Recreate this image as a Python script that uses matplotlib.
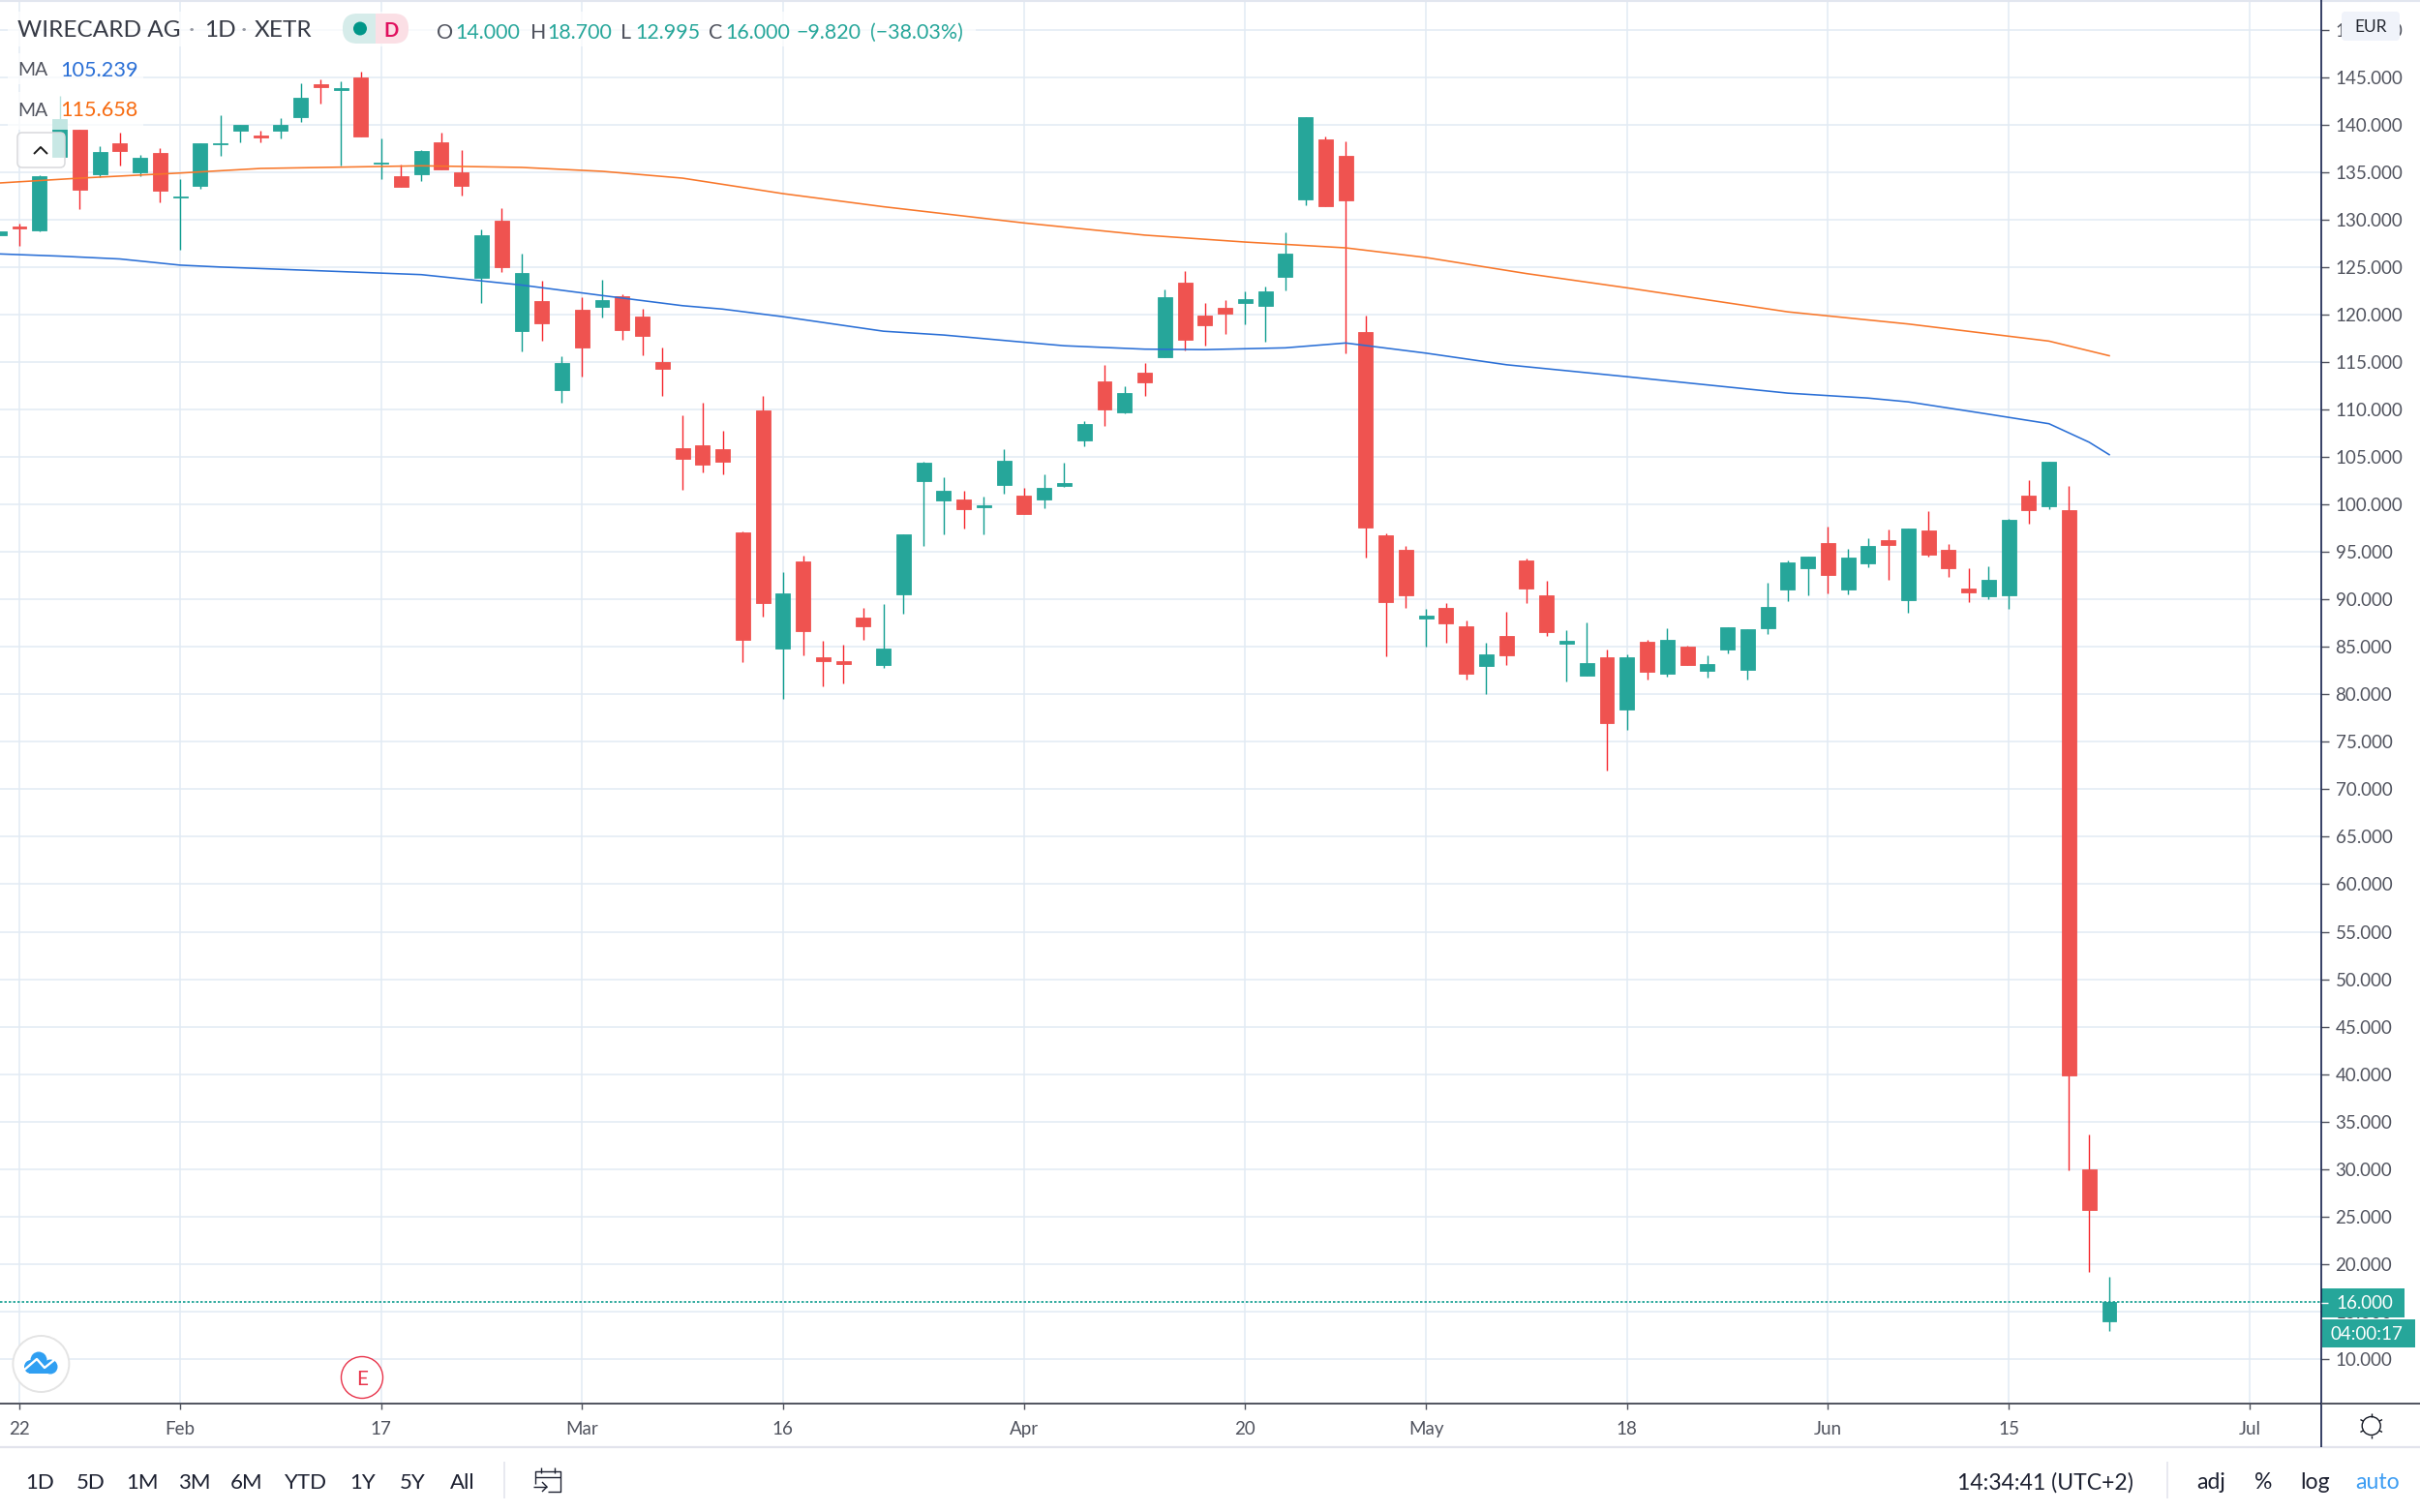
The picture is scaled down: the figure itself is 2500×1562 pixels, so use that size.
import numpy as np
import matplotlib
matplotlib.use("Agg")
import matplotlib.pyplot as plt
from matplotlib.patches import Rectangle, FancyBboxPatch, Circle

plt.rcParams['font.family'] = ['Lato', 'DejaVu Sans']

opens = [128.40,129.25,128.89,136.64,139.46,134.74,138.00,134.98,137.00,132.34,133.50,137.90,139.36,138.88,139.36,140.79,144.25,143.67,144.97,135.86,
134.53,134.74,138.13,134.98,123.86,129.84,118.26,121.42,112.04,120.47,120.84,121.90,119.82,114.99,105.94,106.19,105.86,97.02,109.94,84.79,
94.00,83.91,83.48,88.13,83.04,90.54,102.41,100.37,100.48,99.75,102.04,100.88,100.55,101.93,106.74,112.93,109.66,113.92,115.51,123.37,
119.91,120.70,121.26,120.89,123.98,132.12,138.44,136.71,118.18,96.74,95.25,87.95,89.07,87.20,82.94,86.12,94.08,90.47,85.33,82.00,
83.92,78.35,85.51,82.14,85.00,82.43,84.77,82.57,86.92,91.00,93.29,95.97,91.04,93.83,96.24,89.92,97.26,95.19,91.11,90.33,90.43,
100.93,99.81,99.40,29.95,14.00]
highs = [128.76,129.57,134.63,143.03,139.50,137.73,139.15,136.81,137.50,134.26,138.07,140.99,139.94,139.40,140.65,144.35,144.73,144.56,145.60,138.50,
135.79,137.29,139.15,137.35,128.93,131.24,126.45,123.56,115.57,121.83,123.63,122.13,120.57,116.56,109.40,110.71,107.79,97.13,111.40,92.87,
94.62,85.59,85.22,89.15,89.52,96.80,104.52,102.88,101.42,100.80,105.79,101.71,103.13,104.41,108.78,114.64,112.42,114.85,122.67,124.54,
121.22,121.50,122.43,122.90,128.66,140.78,138.76,138.25,119.91,96.93,95.67,88.97,89.63,87.76,85.47,88.65,94.31,91.92,86.78,87.57,
84.67,84.25,85.75,86.96,85.14,84.06,87.10,86.82,91.74,94.12,94.54,97.67,95.29,96.44,97.36,97.46,99.33,95.87,93.25,93.49,98.48,
102.53,104.46,101.92,33.68,18.70]
lows = [128.40,127.23,128.72,136.60,131.10,134.43,135.69,134.57,131.80,126.80,133.24,136.70,138.17,138.10,138.50,140.28,142.25,135.69,138.70,134.26,
133.41,134.09,135.28,132.53,121.18,124.48,116.08,117.24,110.75,113.50,119.68,117.37,115.74,111.46,101.49,103.39,103.17,83.44,88.14,79.51,
84.13,80.89,81.15,85.77,82.82,88.50,95.67,96.87,97.49,96.80,101.17,99.02,99.60,101.86,106.16,108.30,109.61,111.44,115.51,116.26,
116.73,117.94,119.02,117.10,122.53,131.56,131.42,115.93,94.36,84.02,89.12,85.00,85.47,81.53,80.00,83.13,89.63,86.12,81.35,82.00,
71.99,76.25,81.53,81.82,83.13,81.72,84.30,81.53,86.31,89.86,90.43,90.60,90.53,93.42,92.10,88.63,94.51,92.37,89.72,90.02,89.00,
97.94,99.50,29.84,19.14,12.995]
closes = [128.76,129.08,134.53,140.55,133.17,137.12,137.20,136.47,133.07,132.46,138.07,138.05,139.94,138.60,139.94,142.82,143.95,143.88,138.78,136.03,
133.41,137.20,135.28,133.58,128.35,124.99,124.37,119.07,114.90,116.52,121.48,118.39,117.78,114.28,104.84,104.23,104.52,85.77,89.66,90.68,
86.64,83.48,83.19,87.19,84.79,96.80,104.44,101.42,99.53,99.86,104.59,99.02,101.71,102.22,108.49,110.01,111.69,112.84,121.83,117.33,
118.88,120.09,121.59,122.39,126.41,140.78,131.42,132.03,97.54,89.68,90.38,88.27,87.43,82.14,84.20,84.06,91.13,86.59,85.61,83.31,
76.95,83.92,82.33,85.70,83.13,83.22,87.10,86.82,89.21,93.89,94.54,92.57,94.41,95.63,95.77,97.46,94.68,93.29,90.77,92.06,98.38,
99.37,104.46,39.87,25.70,16.00]
candle_index = list(range(-1, 105))

ma1_index = [-1,2,5,8,10,15,20,25,29,33,35,38,43,46,50,52,56,59,63,66,70,74,80,88,92,94,98,101,103,104]
ma1_values = [126.38,126.15,125.85,125.20,125.00,124.60,124.20,123.10,122.00,120.93,120.57,119.77,118.24,117.84,117.08,116.71,116.35,116.30,116.49,117.00,115.93,114.71,113.45,111.72,111.20,110.80,109.50,108.50,106.55,105.239]
ma2_index = [-1,3,8,12,16,20,25,29,33,38,43,50,56,61,66,70,75,80,88,94,101,104]
ma2_values = [133.85,134.36,134.90,135.38,135.52,135.66,135.49,135.08,134.36,132.73,131.35,129.64,128.36,127.63,127.02,126.00,124.31,122.81,120.28,119.00,117.20,115.658]

price_ticks = list(range(10, 155, 5))
date_ticks = [0,8,18,28,38,50,61,70,80,90,99,111]
date_labels = ["22","Feb","17","Mar","16","Apr","20","May","18","Jun","15","Jul"]
last_price = 16.0

UP, DOWN, WUP, WDOWN = "#26a69a", "#ef5350", "#0f9d8f", "#f5262d"
GRID, TXT, AXC = "#e2ebf4", "#50535e", "#131f4a"

W, H = 2500, 1562
fig = plt.figure(figsize=(W/100, H/100), dpi=100, facecolor="white")
AR, AB = 2398, 1450
ax = fig.add_axes([0, (H-AB)/H, AR/W, AB/H])
ax.set_xlim(-0.963, 114.55)
ax.set_ylim(5.31, 153.12)
ax.set_yticks(price_ticks)
ax.set_yticklabels([f"{v:.3f}" for v in price_ticks])
ax.set_xticks(date_ticks)
ax.set_xticklabels(date_labels)
ax.yaxis.tick_right()
ax.grid(True, color=GRID, lw=1.1, zorder=0)
ax.set_axisbelow(True)
ax.tick_params(axis='y', length=5.5, width=1, color=TXT, labelsize=13.5, labelcolor=TXT, pad=5)
ax.tick_params(axis='x', length=4, width=1, color=TXT, labelsize=13.5, labelcolor=TXT, pad=9)
for s in ('top', 'left'):
    ax.spines[s].set_visible(False)
ax.spines['bottom'].set_color(TXT); ax.spines['bottom'].set_linewidth(1.4)
ax.spines['right'].set_visible(False)

idx = np.array(candle_index)
o, h, l, c = map(np.array, (opens, highs, lows, closes))
isup = c >= o
ax.vlines(idx[isup], l[isup], h[isup], color=WUP, lw=1.0, zorder=3)
ax.vlines(idx[~isup], l[~isup], h[~isup], color=WDOWN, lw=1.0, zorder=3)
ax.bar(idx, np.abs(c-o), bottom=np.minimum(o, c), width=0.72,
       color=np.where(isup, UP, DOWN), edgecolor=np.where(isup, UP, DOWN), lw=0.6, zorder=4)
ax.plot(ma1_index, ma1_values, color="#2a6fd6", lw=1.15, zorder=5)
ax.plot(ma2_index, ma2_values, color="#f8772a", lw=1.15, zorder=5)
ax.axhline(last_price, color=WUP, lw=1.2, ls=(0, (1.5, 1.2)), zorder=5)

# chrome overlay in pixel coordinates
ov = fig.add_axes([0, 0, 1, 1], facecolor="none")
ov.set_xlim(0, W); ov.set_ylim(H, 0); ov.axis("off")

def T(x, y, s, color=TXT, size=16, ha="left", **kw):
    ov.text(x, y, s, color=color, fontsize=size, ha=ha, va="center_baseline", **kw)

def L(xs, ys, color, lw=1.0, **kw):
    ov.plot(xs, ys, color=color, lw=lw, solid_capstyle="butt", **kw)

L([0, W], [1, 1], "#e2e6ef", 1.5)
L([0, W], [1495, 1495], "#e2e3ec", 1.6)
L([AR, AR], [0, 1495], AXC, 1.2)
L([AR, W], [AB, AB], TXT, 1.4)

# legend veils
for (x, y, w, h_) in [(8, 12, 1000, 36), (8, 55, 140, 32), (8, 95, 140, 39)]:
    ov.add_patch(Rectangle((x, y), w, h_, fc="white", ec="none", alpha=0.72))

T(18, 29, "WIRECARD AG", "#363a45", 17.6)
T(195, 29, "·", "#9598a1", 17.6)
T(211, 29, "1D", "#363a45", 17.6)
T(249, 29, "·", "#9598a1", 17.6)
T(263, 29, "XETR", "#363a45", 17.6)

ov.add_patch(FancyBboxPatch((369, 14), 38, 31, boxstyle="round,pad=0,rounding_size=1", fc="#d6ecea", ec="none"))
ov.add_patch(FancyBboxPatch((354, 14), 34, 31, boxstyle="round,pad=0,rounding_size=15", fc="#d6ecea", ec="none"))
ov.add_patch(FancyBboxPatch((388, 14), 34, 31, boxstyle="round,pad=0,rounding_size=15", fc="#fbdfe5", ec="none"))
ov.add_patch(Rectangle((388, 14), 15, 31, fc="#fbdfe5", ec="none"))
ov.add_patch(Circle((372, 29.5), 7, fc="#009688", ec="none"))
T(403.5, 29.5, "D", "#e0105e", 14.5, ha="center", fontweight="bold")

for x, s, col in [(451, "O", "#50535e"), (470, "14.000", UP), (548, "H", "#50535e"), (565, "18.700", UP),
                  (641, "L", "#50535e"), (656, "12.995", UP), (732, "C", "#50535e"), (749, "16.000", UP),
                  (822, "−9.820", UP), (899, "(−38.03%)", UP)]:
    T(x, 32, s, col, 15.4)

T(18, 71, "MA", "#50535e", 14)
T(62, 71, "105.239", "#2a6fd6", 15.6)
T(18, 112.5, "MA", "#50535e", 14)
T(62, 112.5, "115.658", "#f76a0f", 15.6)

ov.add_patch(FancyBboxPatch((18, 137), 49, 36, boxstyle="round,pad=0,rounding_size=5", fc=(1, 1, 1, 0.75), ec="#d8d9dc", lw=1.1))
L([35, 42, 49], [159, 152, 159], "#1a1a1a", 1.4)

# logo
ov.add_patch(Circle((42.4, 1409), 29, fc="white", ec="#e4e4e4", lw=1.4))
LOGO = "#2f9ff2"
for cx, cy, r in [(40, 1405, 8.5), (32, 1412, 7), (52, 1412, 7.5)]:
    ov.add_patch(Circle((cx, cy), r, fc=LOGO, ec="none"))
ov.add_patch(Rectangle((30, 1410), 24, 9, fc=LOGO, ec="none"))
L([24, 38, 46, 56], [1416, 1404, 1413, 1405], "white", 1.7)

ov.add_patch(Circle((374, 1423), 21.5, fc="white", ec="#e8334a", lw=1.0))
T(374, 1423, "E", "#e8334a", 15, ha="center")

# badges
ov.add_patch(Rectangle((2398, 1331), 86, 30, fc=UP, ec="none"))
L([2398, 2405], [1346, 1346], "white", 1.0)
T(2413, 1345.5, "16.000", "white", 13.5)
ov.add_patch(Rectangle((2399, 1363), 96, 29, fc=UP, ec="none"))
T(2407, 1377, "04:00:17", "white", 13.5)

ov.add_patch(FancyBboxPatch((2419, 12), 60, 30, boxstyle="round,pad=0,rounding_size=4", fc="#f0f3fa", ec="none"))
T(2449.5, 26.5, "EUR", "#22262f", 12.5, ha="center")

# sun icon
sx, sy = 2449.7, 1473
ov.add_patch(Circle((sx, sy), 9.5, fc="none", ec="#131722", lw=1.0))
for a in np.arange(0, 360, 60):
    t = np.deg2rad(a + 30)
    L([sx + 9.5*np.cos(t), sx + 13*np.cos(t)], [sy + 9.5*np.sin(t), sy + 13*np.sin(t)], "#131722", 1.0)

# toolbar
BLK = "#1c2030"
for x, s in [(41.5, "1D"), (93.7, "5D"), (147, "1M"), (201, "3M"), (255, "6M"), (315.6, "YTD"), (375, "1Y"), (426, "5Y"), (477.7, "All")]:
    T(x, 1530, s, BLK, 16, ha="center")
L([520.5, 520.5], [1510, 1548], "#e2e3ec", 1.1)
L([2239, 2239], [1510, 1548], "#e2e3ec", 1.1)
L([553, 553, 579, 579, 566], [1533, 1520, 1520, 1541, 1541], BLK, 1.0)
L([553, 579], [1526, 1526], BLK, 1.0)
L([559, 559], [1516, 1522], BLK, 1.0)
L([573, 573], [1516, 1522], BLK, 1.0)
L([551, 565], [1536, 1536], BLK, 1.0)
L([560, 565, 560], [1531, 1536, 1541], BLK, 1.0)
T(2021.7, 1530, "14:34:41 (UTC+2)", BLK, 16.6)
T(2284, 1530, "adj", BLK, 16.6, ha="center")
T(2338, 1530, "%", BLK, 16.6, ha="center")
T(2391.7, 1530, "log", BLK, 16.6, ha="center")
T(2456, 1530, "auto", "#3d9df3", 16.6, ha="center")

fig.savefig("out.png", dpi=100, facecolor="white")
